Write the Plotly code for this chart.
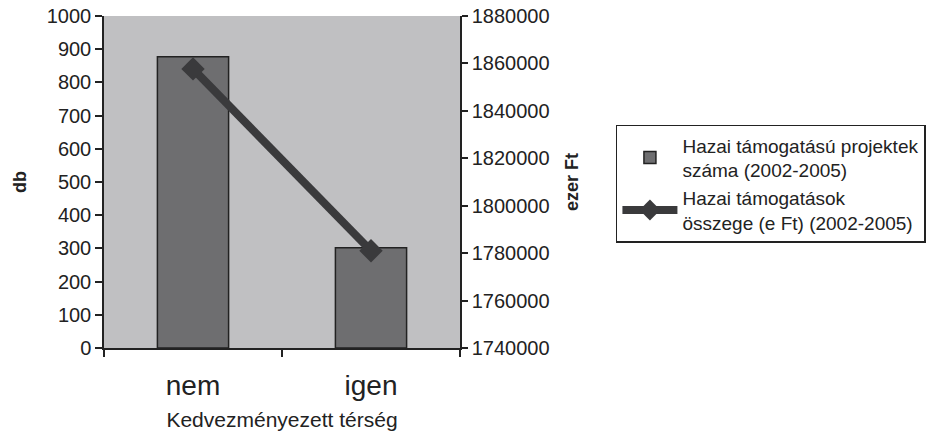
import plotly.graph_objects as go

categories = ["nem", "igen"]
projekt_db = [877, 302]
tamogatas_eFt = [1857700, 1781000]
left_ticks = list(range(0, 1001, 100))
right_ticks = list(range(1740000, 1880001, 20000))

FONT = "Liberation Sans, Arial, sans-serif"
INK = "#222222"

fig = go.Figure()
fig.add_trace(go.Bar(
    x=categories, y=projekt_db,
    name="Hazai támogatású projektek<br>száma (2002-2005)",
    marker=dict(color="#6e6e70", line=dict(color=INK, width=1.5)),
    yaxis="y",
))
fig.add_trace(go.Scatter(
    x=categories, y=tamogatas_eFt,
    name="Hazai támogatások<br>összege (e Ft) (2002-2005)",
    mode="lines+markers",
    line=dict(color="#3a3a3c", width=8),
    marker=dict(symbol="diamond", size=18, color="#3a3a3c"),
    yaxis="y2",
))

tick_common = dict(tickcolor=INK, tickwidth=1.5, showgrid=False, zeroline=False)

fig.update_layout(
    width=948, height=436,
    margin=dict(l=104, r=488, t=16, b=88),
    paper_bgcolor="white",
    plot_bgcolor="#c0c0c2",
    font=dict(family=FONT, size=20, color=INK),
    bargap=0.6,
    showlegend=True,
    legend=dict(
        x=1.438, y=0.672, xanchor="left", yanchor="top",
        bordercolor=INK, borderwidth=1.5,
        bgcolor="white",
        font=dict(size=19, family=FONT),
        itemwidth=55,
    ),
    xaxis=dict(
        showline=True, linecolor=INK, linewidth=1.5,
        ticks="outside", tickson="boundaries", ticklen=7,
        tickfont=dict(size=28),
        ticklabelstandoff=12,
        title=dict(text="Kedvezményezett térség", font=dict(size=21), standoff=12),
        automargin=False,
        **tick_common,
    ),
    xaxis2=dict(
        overlaying="x", side="bottom", range=[-0.5, 1.5],
        tickvals=[-0.5, 0.5, 1.5], ticks="inside", ticklen=8,
        showticklabels=False, showline=False, automargin=False,
        **tick_common,
    ),
    yaxis=dict(
        range=[0, 1000], tickvals=left_ticks,
        showline=True, linecolor=INK, linewidth=1.5,
        ticks="outside", ticklen=7,
        ticklabeloverflow="allow",
        title=dict(text="<b>db</b>", font=dict(size=18), standoff=15),
        automargin=False,
        **tick_common,
    ),
    yaxis2=dict(
        range=[1740000, 1880000], tickvals=right_ticks,
        overlaying="y", side="right",
        showline=True, linecolor=INK, linewidth=1.5,
        ticks="outside", ticklen=6,
        tickformat="d",
        ticklabeloverflow="allow",
        title=dict(text="<b>ezer Ft</b>", font=dict(size=18), standoff=17),
        automargin=False,
        **tick_common,
    ),
    yaxis3=dict(
        range=[0, 1000], tickvals=left_ticks, overlaying="y", side="left",
        ticks="inside", ticklen=6, showticklabels=False, showline=False,
        automargin=False, **tick_common,
    ),
    yaxis4=dict(
        range=[1740000, 1880000], tickvals=right_ticks, overlaying="y", side="right",
        ticks="inside", ticklen=9, showticklabels=False, showline=False,
        automargin=False, **tick_common,
    ),
)

# remove the page's default body margin so the 948x436 figure fills the window exactly
fig.write_html(
    "out.html",
    config={"displayModeBar": False},
    post_script="document.body.style.margin='0';document.body.style.overflow='hidden';",
)
